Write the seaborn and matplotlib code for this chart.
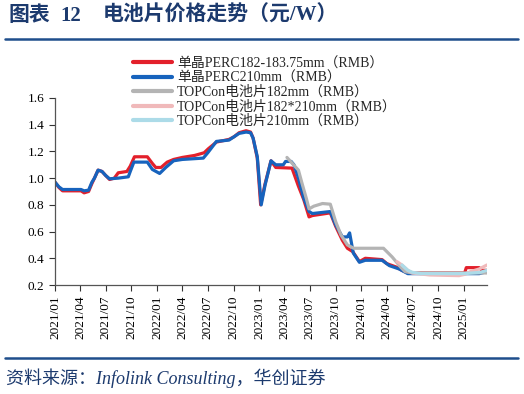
import pandas as pd
import matplotlib
matplotlib.use('Agg')
import matplotlib.pyplot as plt
import matplotlib.dates as mdates
from matplotlib.lines import Line2D
import seaborn as sns

# series names
names = ['单晶PERC182-183.75mm（RMB）', '单晶PERC210mm（RMB）', 'TOPCon电池片182mm（RMB）',
         'TOPCon电池片182*210mm（RMB）', 'TOPCon电池片210mm（RMB）']
colors = ['#e3202b', '#1763bd', '#b4b4b4', '#f0b9ba', '#acdbe8']

perc182_dates = ['2021-01-01', '2021-01-15', '2021-01-28', '2021-04-04', '2021-04-15', '2021-05-01',
                 '2021-05-13', '2021-05-22', '2021-06-04', '2021-06-18', '2021-07-01', '2021-07-15',
                 '2021-08-01', '2021-08-15', '2021-09-15', '2021-09-27', '2021-10-12', '2021-11-27',
                 '2021-12-15', '2021-12-27', '2022-01-15', '2022-02-06', '2022-03-01', '2022-04-01',
                 '2022-05-15', '2022-06-18', '2022-07-03', '2022-08-01', '2022-09-15', '2022-10-03',
                 '2022-10-21', '2022-11-15', '2022-12-01', '2022-12-10', '2022-12-25', '2023-01-06',
                 '2023-01-21', '2023-02-12', '2023-03-01', '2023-04-28', '2023-05-21', '2023-06-09',
                 '2023-06-28', '2023-07-10', '2023-09-12', '2023-10-01', '2023-10-25', '2023-11-12',
                 '2023-12-01', '2023-12-25', '2024-01-15', '2024-03-15', '2024-04-01', '2024-05-04',
                 '2024-05-25', '2024-06-15', '2025-01-04', '2025-01-10', '2025-02-25', '2025-03-07',
                 '2025-03-25']
perc182_vals = [0.97, 0.93, 0.905, 0.905, 0.89, 0.90,
                0.96, 1.00, 1.06, 1.05, 1.02, 0.99,
                1.00, 1.04, 1.05, 1.09, 1.16, 1.16,
                1.11, 1.08, 1.08, 1.12, 1.14, 1.155,
                1.17, 1.19, 1.22, 1.27, 1.29, 1.31,
                1.34, 1.355, 1.345, 1.30, 1.15, 0.80,
                0.95, 1.13, 1.08, 1.075, 0.94, 0.84,
                0.71, 0.72, 0.74, 0.64, 0.535, 0.475,
                0.45, 0.375, 0.40, 0.39, 0.36, 0.335,
                0.31, 0.29, 0.29, 0.33, 0.33, 0.31,
                0.31]

perc210_dates = ['2021-01-01', '2021-01-15', '2021-01-28', '2021-04-04', '2021-04-15', '2021-05-01',
                 '2021-05-13', '2021-05-22', '2021-06-04', '2021-06-18', '2021-07-01', '2021-07-15',
                 '2021-08-15', '2021-09-20', '2021-09-27', '2021-10-10', '2021-11-27', '2021-12-15',
                 '2022-01-10', '2022-02-01', '2022-03-01', '2022-04-01', '2022-06-15', '2022-07-01',
                 '2022-08-01', '2022-09-15', '2022-10-03', '2022-10-21', '2022-11-15', '2022-12-01',
                 '2022-12-10', '2022-12-25', '2023-01-08', '2023-01-22', '2023-02-12', '2023-03-01',
                 '2023-03-28', '2023-04-05', '2023-04-25', '2023-05-05', '2023-05-21', '2023-06-09',
                 '2023-06-28', '2023-07-10', '2023-09-12', '2023-10-01', '2023-10-25', '2023-11-12',
                 '2023-11-20', '2023-12-03', '2023-12-25', '2024-01-15', '2024-03-15', '2024-04-10',
                 '2024-05-15', '2024-06-15', '2025-02-25', '2025-03-25']
perc210_vals = [0.97, 0.935, 0.915, 0.915, 0.905, 0.91,
                0.97, 1.00, 1.06, 1.05, 1.02, 0.995,
                1.00, 1.01, 1.05, 1.12, 1.12, 1.065,
                1.035, 1.08, 1.13, 1.14, 1.15, 1.19,
                1.275, 1.285, 1.31, 1.335, 1.345, 1.34,
                1.30, 1.16, 0.80, 0.95, 1.13, 1.10,
                1.10, 1.125, 1.125, 1.10, 1.00, 0.85,
                0.75, 0.735, 0.75, 0.65, 0.56, 0.56,
                0.59, 0.44, 0.37, 0.385, 0.385, 0.345,
                0.32, 0.285, 0.285, 0.30]

topcon182_dates = ['2023-04-10', '2023-05-21', '2023-06-03', '2023-06-18', '2023-06-28', '2023-07-15',
                   '2023-08-15', '2023-09-12', '2023-10-01', '2023-10-20', '2023-11-12', '2023-12-05',
                   '2024-03-20', '2024-04-20', '2024-05-20', '2024-06-05', '2024-07-01', '2025-03-25']
topcon182_vals = [1.155, 1.06, 0.96, 0.85, 0.77, 0.79,
                  0.81, 0.805, 0.675, 0.575, 0.50, 0.475,
                  0.475, 0.41, 0.335, 0.30, 0.29, 0.29]

topcon182x210_dates = ['2024-05-07', '2024-05-25', '2024-06-15', '2024-07-01', '2024-09-01', '2024-12-15',
                       '2025-01-05', '2025-01-25', '2025-02-25', '2025-03-25']
topcon182x210_vals = [0.375, 0.35, 0.31, 0.29, 0.275, 0.27,
                      0.28, 0.30, 0.32, 0.35]

topcon210_dates = ['2024-05-25', '2024-06-15', '2024-07-01', '2024-08-01', '2025-01-01', '2025-03-01',
                   '2025-03-25']
topcon210_vals = [0.35, 0.31, 0.295, 0.285, 0.285, 0.295, 0.31]

yticks = [0.2, 0.4, 0.6, 0.8, 1.0, 1.2, 1.4, 1.6]

frames = []
for n, d, v in zip(names,
                   [perc182_dates, perc210_dates, topcon182_dates, topcon182x210_dates, topcon210_dates],
                   [perc182_vals, perc210_vals, topcon182_vals, topcon182x210_vals, topcon210_vals]):
    frames.append(pd.DataFrame({'date': pd.to_datetime(d), 'value': v, 'series': n}))
df = pd.concat(frames, ignore_index=True)

sns.set_style('ticks')
plt.rcParams['font.family'] = ['Liberation Serif', 'Noto Sans CJK SC']
plt.rcParams['axes.unicode_minus'] = False

fig = plt.figure(figsize=(5.24, 3.94), dpi=100)
ax = fig.add_axes([55 / 524, 1 - 285 / 394, (487 - 55) / 524, (285 - 98) / 394])

sns.lineplot(data=df, x='date', y='value', hue='series', hue_order=names,
             palette=dict(zip(names, colors)), estimator=None, sort=True,
             linewidth=2.3, ax=ax)

ax.set_xlim(pd.Timestamp('2021-01-01'), pd.Timestamp('2025-03-25'))
ax.set_ylim(0.2, 1.6)
ax.set_yticks(yticks)
ax.set_yticklabels([f'{t:.1f}' for t in yticks], fontsize=9.5)
ax.xaxis.set_major_locator(mdates.MonthLocator(bymonth=[1, 4, 7, 10]))
ax.xaxis.set_major_formatter(mdates.DateFormatter('%Y/%m'))
plt.setp(ax.get_xticklabels(), rotation=90, fontsize=9.5)
ax.tick_params(axis='both', direction='out', length=4, width=0.8, colors='#333333', labelcolor='black')
ax.set_xlabel('')
ax.set_ylabel('')
for s in ['left', 'bottom']:
    ax.spines[s].set_color('#555555')
    ax.spines[s].set_linewidth(0.9)
sns.despine(ax=ax)

handles, labels = ax.get_legend_handles_labels()
ax.legend(handles, labels, loc='upper left', bbox_to_anchor=(133 / 524, 1 - 57 / 394),
          bbox_transform=fig.transFigure, frameon=False, fontsize=10, handlelength=2.8,
          handletextpad=0.35, labelspacing=0.08, borderpad=0, borderaxespad=0)
for h in ax.get_legend().get_lines():
    h.set_linewidth(3)

navy = '#1c3a6e'
title_y = 1 - 16 / 394
fig.text(8 / 524, title_y, '图表', fontsize=15, fontweight='bold', color=navy, va='center', ha='left')
fig.text(60 / 524, title_y, '12', fontsize=15, fontweight='bold', color=navy, va='center', ha='left')
fig.text(103 / 524, title_y, '电池片价格走势（元/W）', fontsize=15, fontweight='bold', color=navy,
         va='center', ha='left')
fig.add_artist(Line2D([5 / 524, 518 / 524], [1 - 39 / 394] * 2, color='#1f4e8c', linewidth=1.8))
fig.add_artist(Line2D([5 / 524, 518 / 524], [1 - 358 / 394] * 2, color='#1f4e8c', linewidth=1.8))
fig.text(6 / 524, 1 - 378 / 394, '资料来源：Infolink Consulting，华创证券', fontsize=13, style='italic',
         color=navy, va='center', ha='left')

fig.savefig('out.png', dpi=100)
